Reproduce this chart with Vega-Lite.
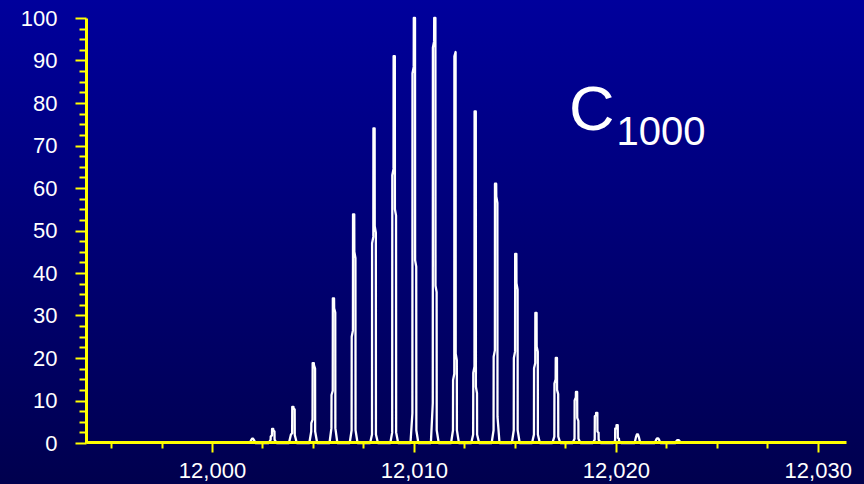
{
  "$schema": "https://vega.github.io/schema/vega-lite/v6.json",
  "width": 864,
  "height": 484,
  "autosize": "none",
  "padding": 0,
  "background": "#000078",
  "view": {
    "fill": {"gradient": "linear", "x1": 0, "y1": 0, "x2": 0, "y2": 1,
      "stops": [{"offset": 0, "color": "#00009c"}, {"offset": 1, "color": "#00004e"}]},
    "stroke": null
  },
  "config": {"font": "Liberation Sans"},
  "resolve": {"axis": {"x": "independent", "y": "independent"}},
  "datasets": {
    "spectrum": [
        {"m": 12001.87, "i": 0}, {"m": 12001.94, "i": 0.7}, {"m": 12001.98, "i": 1.0}, {"m": 12002.04, "i": 1.0}, {"m": 12002.08, "i": 0.7}, {"m": 12002.15, "i": 0},
        {"m": 12002.81, "i": 0}, {"m": 12002.905, "i": 0.8}, {"m": 12002.91, "i": 1.5}, {"m": 12002.97, "i": 1.8}, {"m": 12002.975, "i": 3.3}, {"m": 12003.035, "i": 3.3}, {"m": 12003.04, "i": 3.0}, {"m": 12003.095, "i": 2.7}, {"m": 12003.1, "i": 0.8}, {"m": 12003.2, "i": 0},
        {"m": 12003.81, "i": 0}, {"m": 12003.905, "i": 1.9}, {"m": 12003.91, "i": 2.0}, {"m": 12003.97, "i": 2.3}, {"m": 12003.975, "i": 8.5}, {"m": 12004.035, "i": 8.5}, {"m": 12004.04, "i": 8.2}, {"m": 12004.095, "i": 7.9}, {"m": 12004.1, "i": 1.9}, {"m": 12004.2, "i": 0},
        {"m": 12004.82, "i": 0}, {"m": 12004.915, "i": 2.7}, {"m": 12004.92, "i": 4.7}, {"m": 12004.98, "i": 5.5}, {"m": 12004.985, "i": 18.8}, {"m": 12005.045, "i": 18.8}, {"m": 12005.05, "i": 18.3}, {"m": 12005.105, "i": 17.5}, {"m": 12005.11, "i": 2.7}, {"m": 12005.21, "i": 0},
        {"m": 12005.82, "i": 0}, {"m": 12005.915, "i": 3.5}, {"m": 12005.92, "i": 11.3}, {"m": 12005.98, "i": 12.3}, {"m": 12005.985, "i": 34}, {"m": 12006.045, "i": 34}, {"m": 12006.05, "i": 31.7}, {"m": 12006.105, "i": 30.7}, {"m": 12006.11, "i": 3.5}, {"m": 12006.21, "i": 0},
        {"m": 12006.82, "i": 0}, {"m": 12006.915, "i": 3}, {"m": 12006.92, "i": 25}, {"m": 12006.98, "i": 26.5}, {"m": 12006.985, "i": 53.8}, {"m": 12007.045, "i": 53.8}, {"m": 12007.05, "i": 45}, {"m": 12007.105, "i": 43.5}, {"m": 12007.11, "i": 3}, {"m": 12007.21, "i": 0},
        {"m": 12007.83, "i": 0}, {"m": 12007.925, "i": 2}, {"m": 12007.93, "i": 47}, {"m": 12007.99, "i": 48.5}, {"m": 12007.995, "i": 74}, {"m": 12008.055, "i": 74}, {"m": 12008.06, "i": 51}, {"m": 12008.115, "i": 49.5}, {"m": 12008.12, "i": 2}, {"m": 12008.22, "i": 0},
        {"m": 12008.83, "i": 0}, {"m": 12008.925, "i": 2.5}, {"m": 12008.93, "i": 63}, {"m": 12008.99, "i": 64.5}, {"m": 12008.995, "i": 91}, {"m": 12009.055, "i": 91}, {"m": 12009.06, "i": 55}, {"m": 12009.115, "i": 53.5}, {"m": 12009.12, "i": 2.5}, {"m": 12009.22, "i": 0},
        {"m": 12009.83, "i": 0}, {"m": 12009.925, "i": 7}, {"m": 12009.93, "i": 87}, {"m": 12009.99, "i": 88.5}, {"m": 12009.995, "i": 100}, {"m": 12010.055, "i": 100}, {"m": 12010.06, "i": 43}, {"m": 12010.115, "i": 41.5}, {"m": 12010.12, "i": 3}, {"m": 12010.22, "i": 0},
        {"m": 12010.84, "i": 0}, {"m": 12010.935, "i": 9.4}, {"m": 12010.94, "i": 93}, {"m": 12011.0, "i": 94.5}, {"m": 12011.005, "i": 100}, {"m": 12011.065, "i": 100}, {"m": 12011.07, "i": 37}, {"m": 12011.125, "i": 35.5}, {"m": 12011.13, "i": 3}, {"m": 12011.23, "i": 0},
        {"m": 12011.84, "i": 0}, {"m": 12011.935, "i": 3}, {"m": 12011.94, "i": 14.8}, {"m": 12012.0, "i": 16.3}, {"m": 12012.005, "i": 91}, {"m": 12012.065, "i": 92}, {"m": 12012.07, "i": 21}, {"m": 12012.125, "i": 19.5}, {"m": 12012.13, "i": 3}, {"m": 12012.23, "i": 0},
        {"m": 12012.84, "i": 0}, {"m": 12012.935, "i": 2}, {"m": 12012.94, "i": 16.5}, {"m": 12013.0, "i": 18}, {"m": 12013.005, "i": 78}, {"m": 12013.065, "i": 78}, {"m": 12013.07, "i": 13.2}, {"m": 12013.125, "i": 11.7}, {"m": 12013.13, "i": 2}, {"m": 12013.23, "i": 0},
        {"m": 12013.85, "i": 0}, {"m": 12013.945, "i": 3}, {"m": 12013.95, "i": 20.3}, {"m": 12014.01, "i": 21.8}, {"m": 12014.015, "i": 61}, {"m": 12014.075, "i": 61}, {"m": 12014.08, "i": 58}, {"m": 12014.135, "i": 56.5}, {"m": 12014.14, "i": 6.2}, {"m": 12014.24, "i": 0},
        {"m": 12014.85, "i": 0}, {"m": 12014.945, "i": 3}, {"m": 12014.95, "i": 20}, {"m": 12015.01, "i": 21.5}, {"m": 12015.015, "i": 44.5}, {"m": 12015.075, "i": 44.5}, {"m": 12015.08, "i": 37.6}, {"m": 12015.135, "i": 36.1}, {"m": 12015.14, "i": 3}, {"m": 12015.24, "i": 0},
        {"m": 12015.85, "i": 0}, {"m": 12015.945, "i": 2}, {"m": 12015.95, "i": 17.6}, {"m": 12016.01, "i": 18.8}, {"m": 12016.015, "i": 30.6}, {"m": 12016.075, "i": 30.6}, {"m": 12016.08, "i": 22.7}, {"m": 12016.135, "i": 21.5}, {"m": 12016.14, "i": 2}, {"m": 12016.24, "i": 0},
        {"m": 12016.86, "i": 0}, {"m": 12016.955, "i": 1.5}, {"m": 12016.96, "i": 14}, {"m": 12017.02, "i": 15}, {"m": 12017.025, "i": 20}, {"m": 12017.085, "i": 20}, {"m": 12017.09, "i": 12.5}, {"m": 12017.145, "i": 11.5}, {"m": 12017.15, "i": 1.5}, {"m": 12017.25, "i": 0},
        {"m": 12017.86, "i": 0}, {"m": 12017.955, "i": 1}, {"m": 12017.96, "i": 10}, {"m": 12018.02, "i": 10.7}, {"m": 12018.025, "i": 12}, {"m": 12018.085, "i": 12}, {"m": 12018.09, "i": 5.9}, {"m": 12018.145, "i": 5.2}, {"m": 12018.15, "i": 1}, {"m": 12018.25, "i": 0},
        {"m": 12018.86, "i": 0}, {"m": 12018.955, "i": 0.8}, {"m": 12018.96, "i": 6.3}, {"m": 12019.02, "i": 6.6}, {"m": 12019.025, "i": 7.1}, {"m": 12019.085, "i": 7.1}, {"m": 12019.09, "i": 2.7}, {"m": 12019.145, "i": 2.4}, {"m": 12019.15, "i": 0.8}, {"m": 12019.25, "i": 0},
        {"m": 12019.87, "i": 0}, {"m": 12019.965, "i": 0.5}, {"m": 12019.97, "i": 3.4}, {"m": 12020.03, "i": 3.6}, {"m": 12020.035, "i": 4.2}, {"m": 12020.095, "i": 4.2}, {"m": 12020.1, "i": 1.2}, {"m": 12020.155, "i": 1.0}, {"m": 12020.16, "i": 0.5}, {"m": 12020.26, "i": 0},
        {"m": 12020.93, "i": 0}, {"m": 12021.0, "i": 1.4}, {"m": 12021.04, "i": 2.0}, {"m": 12021.1, "i": 2.0}, {"m": 12021.14, "i": 1.4}, {"m": 12021.21, "i": 0},
        {"m": 12021.93, "i": 0}, {"m": 12022.0, "i": 0.8}, {"m": 12022.04, "i": 1.1}, {"m": 12022.1, "i": 1.1}, {"m": 12022.14, "i": 0.8}, {"m": 12022.21, "i": 0},
        {"m": 12022.94, "i": 0}, {"m": 12023.01, "i": 0.5}, {"m": 12023.05, "i": 0.7}, {"m": 12023.11, "i": 0.7}, {"m": 12023.15, "i": 0.5}, {"m": 12023.22, "i": 0}
    ]
  },
  "layer": [
    {
      "data": {"name": "spectrum"},
      "mark": {"type": "line", "color": "#ffffff", "opacity": 0, "clip": false},
      "encoding": {
        "x": {
          "field": "m", "type": "quantitative",
          "scale": {"domain": [11993.76, 12031.4], "range": [86, 846], "zero": false, "nice": false},
          "axis": {
            "orient": "bottom", "offset": -42, "title": null, "grid": false, "labels": false, "domain": false,
            "values": [11995, 11997.5, 12002.5, 12005, 12007.5, 12012.5, 12015, 12017.5, 12022.5, 12025, 12027.5],
            "tickColor": "#ffff00", "tickWidth": 2, "tickSize": 6, "zindex": 1
          }
        },
        "y": {
          "field": "i", "type": "quantitative",
          "scale": {"domain": [0, 100], "range": [443, 18], "zero": false, "nice": false},
          "axis": {
            "orient": "left", "offset": -86, "title": null, "grid": false, "labels": false, "domain": false,
            "values": [2.5, 5, 7.5, 12.5, 15, 17.5, 22.5, 25, 27.5, 32.5, 35, 37.5, 42.5, 45, 47.5, 52.5, 55, 57.5, 62.5, 65, 67.5, 72.5, 75, 77.5, 82.5, 85, 87.5, 92.5, 95, 97.5],
            "tickColor": "#ffff00", "tickWidth": 2, "tickSize": 7, "zindex": 1
          }
        }
      }
    },
    {
      "data": {"name": "spectrum"},
      "mark": {"type": "line", "color": "#ffffff", "strokeWidth": 2.3, "strokeJoin": "round", "clip": false},
      "encoding": {
        "x": {
          "field": "m", "type": "quantitative",
          "scale": {"domain": [11993.76, 12031.4], "range": [86, 846], "zero": false, "nice": false},
          "axis": {
            "orient": "bottom", "offset": -42, "title": null, "grid": false,
            "values": [12000, 12010, 12020, 12030],
            "format": ",.0f",
            "labelFont": "Liberation Sans", "labelFontSize": 22, "labelColor": "#ffffff", "labelPadding": 8,
            "labelOverlap": false, "labelFlush": false,
            "domainColor": "#ffff00", "domainWidth": 3,
            "tickColor": "#ffff00", "tickWidth": 2, "tickSize": 10,
            "zindex": 1
          }
        },
        "y": {
          "field": "i", "type": "quantitative",
          "scale": {"domain": [0, 100], "range": [443, 18], "zero": false, "nice": false},
          "axis": {
            "orient": "left", "offset": -86, "title": null, "grid": false,
            "values": [0, 10, 20, 30, 40, 50, 60, 70, 80, 90, 100],
            "labelFont": "Liberation Sans", "labelFontSize": 22, "labelColor": "#ffffff", "labelPadding": 18,
            "labelOverlap": false, "labelFlush": false,
            "domainColor": "#ffff00", "domainWidth": 3,
            "tickColor": "#ffff00", "tickWidth": 2, "tickSize": 11,
            "zindex": 1
          }
        }
      }
    },
    {
      "data": {"values": [{"t": "C"}]},
      "mark": {"type": "text", "color": "#ffffff", "font": "Liberation Sans", "fontSize": 63, "align": "left", "baseline": "alphabetic"},
      "encoding": {
        "x": {"datum": 12017.68, "type": "quantitative", "axis": null},
        "y": {"datum": 73.6, "type": "quantitative", "axis": null},
        "text": {"field": "t"}
      }
    },
    {
      "data": {"values": [{"t": "1000"}]},
      "mark": {"type": "text", "color": "#ffffff", "font": "Liberation Sans", "fontSize": 40, "align": "left", "baseline": "alphabetic"},
      "encoding": {
        "x": {"datum": 12020.03, "type": "quantitative", "axis": null},
        "y": {"datum": 70.1, "type": "quantitative", "axis": null},
        "text": {"field": "t"}
      }
    }
  ]
}
